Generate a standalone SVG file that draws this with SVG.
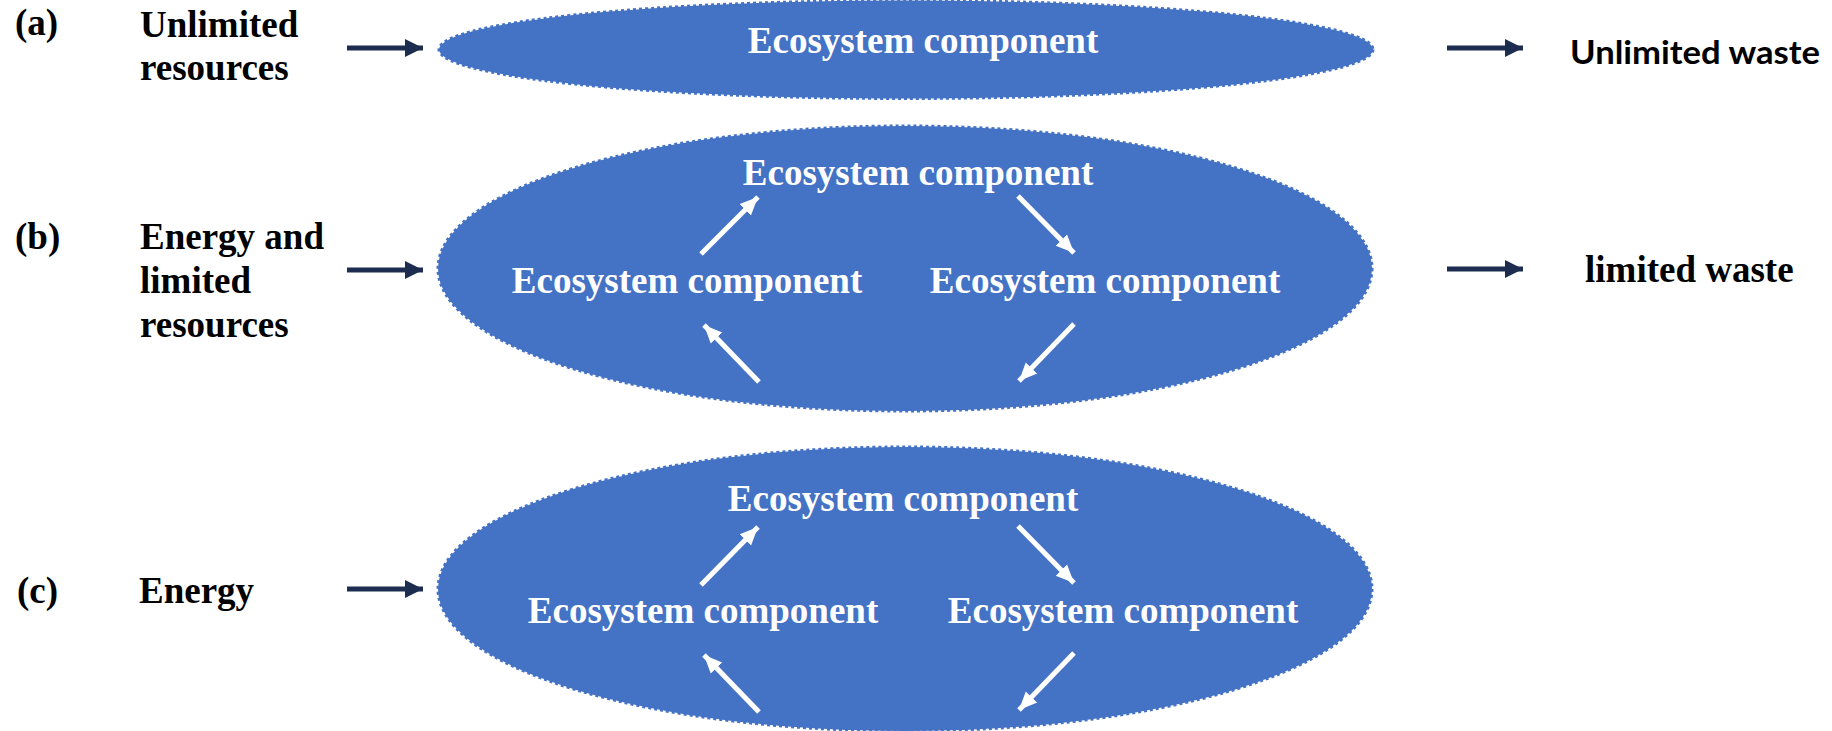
<svg xmlns="http://www.w3.org/2000/svg" width="1832" height="731" viewBox="0 0 1832 731">
  <style>
    .lbl { font-family: "Liberation Serif", "Times New Roman", serif; font-weight: 700; font-size: 37px; fill: #000; }
    .eco { font-family: "Liberation Serif", "Times New Roman", serif; font-weight: 700; font-size: 37px; fill: #fff; text-anchor: middle; }
    .sans { font-family: "Lato", "Open Sans", "Liberation Sans", sans-serif; font-weight: 700; font-size: 33px; fill: #000; }
    .oval { fill: #4472c4; stroke: #4472c4; stroke-width: 3; stroke-dasharray: 3 3; }
    .flow { stroke: #1c2d4f; stroke-width: 5; fill: none; }
    .cycle { stroke: #fff; stroke-width: 5; fill: none; }
  </style>
  <defs>
    <marker id="headDark" markerUnits="userSpaceOnUse" markerWidth="20" markerHeight="20" refX="18" refY="10" orient="auto">
      <path d="M0,1 L18,10 L0,19 Z" fill="#1c2d4f"/>
    </marker>
    <marker id="headWhite" markerUnits="userSpaceOnUse" markerWidth="20" markerHeight="20" refX="18" refY="10" orient="auto">
      <path d="M0,2 L18,10 L0,18 Z" fill="#fff"/>
    </marker>
  </defs>

  <!-- row (a): open system -->
  <g id="label-a">
    <text class="lbl" x="15" y="35">(a)</text>
    <text class="lbl" x="140" y="37">Unlimited</text>
    <text class="lbl" x="140" y="80">resources</text>
  </g>
  <g id="system-a">
    <ellipse class="oval" cx="906" cy="49.5" rx="467" ry="49"/>
    <text class="eco" x="923" y="53">Ecosystem component</text>
  </g>
  <g id="output-a">
    <text class="sans" x="1570" y="64" textLength="250" lengthAdjust="spacingAndGlyphs">Unlimited waste</text>
  </g>

  <!-- row (b): partially closed system -->
  <g id="label-b">
    <text class="lbl" x="15" y="249">(b)</text>
    <text class="lbl" x="140" y="249">Energy and</text>
    <text class="lbl" x="140" y="293">limited</text>
    <text class="lbl" x="140" y="337">resources</text>
  </g>
  <g id="system-b">
    <ellipse class="oval" cx="905" cy="268.5" rx="467" ry="142.5"/>
    <text class="eco" x="918" y="185">Ecosystem component</text>
    <text class="eco" x="687" y="293">Ecosystem component</text>
    <text class="eco" x="1105" y="293">Ecosystem component</text>
  </g>
  <g id="output-b">
    <text class="lbl" x="1585" y="282">limited waste</text>
  </g>

  <!-- row (c): closed system -->
  <g id="label-c">
    <text class="lbl" x="17" y="603">(c)</text>
    <text class="lbl" x="139" y="603">Energy</text>
  </g>
  <g id="system-c">
    <ellipse class="oval" cx="905" cy="589" rx="467" ry="142"/>
    <text class="eco" x="903" y="511">Ecosystem component</text>
    <text class="eco" x="703" y="623">Ecosystem component</text>
    <text class="eco" x="1123" y="623">Ecosystem component</text>
  </g>

  <g id="connectors">
    <!-- inputs and outputs -->
    <line class="flow" x1="347" y1="48" x2="423" y2="48" marker-end="url(#headDark)"/>
    <line class="flow" x1="1447" y1="48" x2="1523" y2="48" marker-end="url(#headDark)"/>
    <line class="flow" x1="347" y1="270" x2="423" y2="270" marker-end="url(#headDark)"/>
    <line class="flow" x1="1447" y1="269" x2="1523" y2="269" marker-end="url(#headDark)"/>
    <line class="flow" x1="347" y1="589" x2="423" y2="589" marker-end="url(#headDark)"/>

    <!-- cycle in (b) -->
    <line class="cycle" x1="701" y1="254" x2="758" y2="197" marker-end="url(#headWhite)"/>
    <line class="cycle" x1="1018" y1="196" x2="1074" y2="253" marker-end="url(#headWhite)"/>
    <line class="cycle" x1="1074" y1="324" x2="1019" y2="381" marker-end="url(#headWhite)"/>
    <line class="cycle" x1="759" y1="382" x2="704" y2="325" marker-end="url(#headWhite)"/>

    <!-- cycle in (c) -->
    <line class="cycle" x1="701" y1="585" x2="758" y2="527" marker-end="url(#headWhite)"/>
    <line class="cycle" x1="1018" y1="526" x2="1074" y2="583" marker-end="url(#headWhite)"/>
    <line class="cycle" x1="1074" y1="653" x2="1019" y2="710" marker-end="url(#headWhite)"/>
    <line class="cycle" x1="759" y1="712" x2="704" y2="655" marker-end="url(#headWhite)"/>
  </g>
</svg>
